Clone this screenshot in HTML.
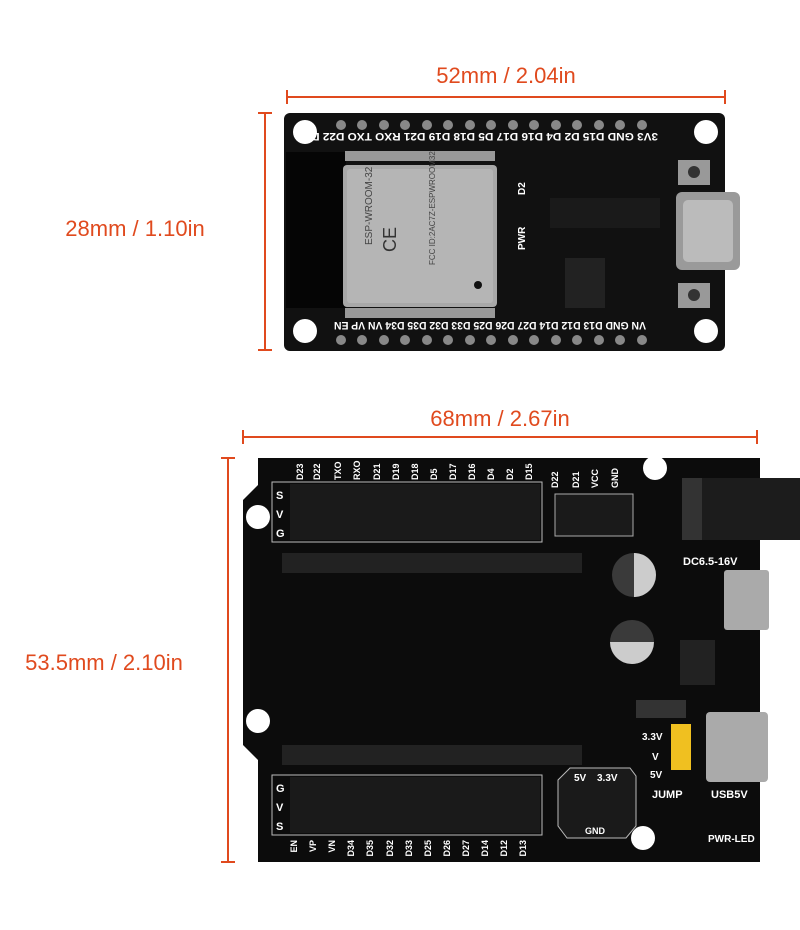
<!DOCTYPE html>
<html><head><style>
body{margin:0;background:#fff;width:800px;height:930px;overflow:hidden}
svg{display:block}
.d{font-family:"Liberation Sans",sans-serif;fill:#e04a1e;font-size:22px}
.w{font-family:"Liberation Sans",sans-serif;fill:#fff;font-weight:bold}
</style></head><body>
<svg width="800" height="930" viewBox="0 0 800 930">
<g stroke="#e04a1e" stroke-width="2">
<line x1="287" y1="97" x2="725" y2="97"/><line x1="287" y1="90" x2="287" y2="104"/><line x1="725" y1="90" x2="725" y2="104"/>
<line x1="265" y1="113" x2="265" y2="350"/><line x1="258" y1="113" x2="272" y2="113"/><line x1="258" y1="350" x2="272" y2="350"/>
<line x1="243" y1="437" x2="757" y2="437"/><line x1="243" y1="430" x2="243" y2="444"/><line x1="757" y1="430" x2="757" y2="444"/>
<line x1="228" y1="458" x2="228" y2="862"/><line x1="221" y1="458" x2="235" y2="458"/><line x1="221" y1="862" x2="235" y2="862"/>
</g>
<text class="d" x="506" y="83" text-anchor="middle">52mm / 2.04in</text>
<text class="d" x="135" y="236" text-anchor="middle">28mm / 1.10in</text>
<text class="d" x="500" y="426" text-anchor="middle">68mm / 2.67in</text>
<text class="d" x="104" y="670" text-anchor="middle">53.5mm / 2.10in</text>

<rect x="284" y="113" width="441" height="238" rx="6" fill="#111"/>
<rect x="286" y="152" width="60" height="156" fill="#050505"/>
<circle cx="305" cy="132" r="12" fill="#fff"/><circle cx="706" cy="132" r="12" fill="#fff"/>
<circle cx="305" cy="331" r="12" fill="#fff"/><circle cx="706" cy="331" r="12" fill="#fff"/>
<g fill="#999">
<rect x="345" y="151" width="150" height="10"/><rect x="345" y="308" width="150" height="10"/>
</g>
<rect x="343" y="165" width="154" height="142" rx="4" fill="#a8a8a8"/>
<rect x="347" y="169" width="146" height="134" rx="3" fill="#b5b5b5"/>
<text x="372" y="245" font-family="Liberation Sans" font-size="10" fill="#444" transform="rotate(-90 372 245)">ESP-WROOM-32</text>
<text x="396" y="252" font-family="Liberation Sans" font-size="18" fill="#333" transform="rotate(-90 396 252)">CE</text>
<text x="435" y="265" font-family="Liberation Sans" font-size="8" fill="#444" transform="rotate(-90 435 265)">FCC ID:2AC7Z-ESPWROOM32</text>
<circle cx="478" cy="285" r="4" fill="#111"/>
<g fill="#888">
<circle cx="341" cy="125" r="5"/><circle cx="362" cy="125" r="5"/><circle cx="384" cy="125" r="5"/><circle cx="405" cy="125" r="5"/><circle cx="427" cy="125" r="5"/><circle cx="448" cy="125" r="5"/><circle cx="470" cy="125" r="5"/><circle cx="491" cy="125" r="5"/><circle cx="513" cy="125" r="5"/><circle cx="534" cy="125" r="5"/><circle cx="556" cy="125" r="5"/><circle cx="577" cy="125" r="5"/><circle cx="599" cy="125" r="5"/><circle cx="620" cy="125" r="5"/><circle cx="642" cy="125" r="5"/>
<circle cx="341" cy="340" r="5"/><circle cx="362" cy="340" r="5"/><circle cx="384" cy="340" r="5"/><circle cx="405" cy="340" r="5"/><circle cx="427" cy="340" r="5"/><circle cx="448" cy="340" r="5"/><circle cx="470" cy="340" r="5"/><circle cx="491" cy="340" r="5"/><circle cx="513" cy="340" r="5"/><circle cx="534" cy="340" r="5"/><circle cx="556" cy="340" r="5"/><circle cx="577" cy="340" r="5"/><circle cx="599" cy="340" r="5"/><circle cx="620" cy="340" r="5"/><circle cx="642" cy="340" r="5"/>
</g>
<text class="w" x="478" y="141" font-size="11" text-anchor="middle" textLength="360" lengthAdjust="spacingAndGlyphs" transform="rotate(180 478 137)">3V3 GND D15 D2 D4 D16 D17 D5 D18 D19 D21 RXO TXO D22 D23</text>
<text class="w" x="490" y="330" font-size="11" text-anchor="middle" textLength="312" lengthAdjust="spacingAndGlyphs" transform="rotate(180 490 326)">VN GND D13 D12 D14 D27 D26 D25 D33 D32 D35 D34 VN VP EN</text>
<text class="w" x="525" y="195" font-size="10" transform="rotate(-90 525 195)">D2</text>
<text class="w" x="525" y="250" font-size="10" transform="rotate(-90 525 250)">PWR</text>
<rect x="550" y="198" width="110" height="30" fill="#1a1a1a"/>
<rect x="565" y="258" width="40" height="50" fill="#222"/>
<rect x="676" y="192" width="64" height="78" rx="6" fill="#9a9a9a"/>
<rect x="683" y="200" width="50" height="62" rx="5" fill="#bbb"/>
<rect x="678" y="160" width="32" height="25" fill="#999"/><circle cx="694" cy="172" r="6" fill="#333"/>
<rect x="678" y="283" width="32" height="25" fill="#999"/><circle cx="694" cy="295" r="6" fill="#333"/>

<path d="M258 458 H760 V862 H258 V760 L243 745 V500 L258 485 Z" fill="#0c0c0c"/>
<circle cx="655" cy="468" r="12" fill="#fff"/><circle cx="258" cy="517" r="12" fill="#fff"/>
<circle cx="258" cy="721" r="12" fill="#fff"/><circle cx="643" cy="838" r="12" fill="#fff"/>
<rect x="682" y="478" width="118" height="62" fill="#1c1c1c"/>
<rect x="682" y="478" width="20" height="62" fill="#333"/>
<text class="w" x="683" y="565" font-size="11">DC6.5-16V</text>
<rect x="724" y="570" width="45" height="60" rx="3" fill="#aaa"/>
<rect x="706" y="712" width="62" height="70" rx="4" fill="#aaa"/>
<text class="w" x="711" y="798" font-size="11">USB5V</text>
<circle cx="634" cy="575" r="22" fill="#3a3a3a"/><path d="M634 553 A22 22 0 0 1 634 597 Z" fill="#ccc"/>
<circle cx="632" cy="642" r="22" fill="#3a3a3a"/><path d="M610 642 A22 22 0 0 0 654 642 Z" fill="#ccc"/>
<rect x="680" y="640" width="35" height="45" fill="#222"/>
<rect x="636" y="700" width="50" height="18" fill="#333"/>
<rect x="671" y="724" width="20" height="46" fill="#f0c020"/>
<text class="w" x="642" y="740" font-size="10">3.3V</text><text class="w" x="652" y="760" font-size="10">V</text><text class="w" x="650" y="778" font-size="10">5V</text>
<text class="w" x="652" y="798" font-size="11">JUMP</text>
<text class="w" x="708" y="842" font-size="10">PWR-LED</text>
<rect x="272" y="482" width="270" height="60" fill="none" stroke="#bbb"/>
<rect x="290" y="484" width="250" height="56" fill="#1a1a1a"/>
<text class="w" x="276" y="499" font-size="11">S</text><text class="w" x="276" y="518" font-size="11">V</text><text class="w" x="276" y="537" font-size="11">G</text>
<text class="w" x="303" y="480" font-size="9" transform="rotate(-90 303 480)">D23</text>
<text class="w" x="558" y="488" font-size="9" transform="rotate(-90 558 488)">D22</text>
<text class="w" x="579" y="488" font-size="9" transform="rotate(-90 579 488)">D21</text>
<text class="w" x="598" y="488" font-size="9" transform="rotate(-90 598 488)">VCC</text>
<text class="w" x="618" y="488" font-size="9" transform="rotate(-90 618 488)">GND</text>
<g class="w" font-size="9"><text x="320" y="480" transform="rotate(-90 320 480)">D22</text><text x="341" y="480" transform="rotate(-90 341 480)">TXO</text><text x="360" y="480" transform="rotate(-90 360 480)">RXO</text><text x="380" y="480" transform="rotate(-90 380 480)">D21</text><text x="399" y="480" transform="rotate(-90 399 480)">D19</text><text x="418" y="480" transform="rotate(-90 418 480)">D18</text><text x="437" y="480" transform="rotate(-90 437 480)">D5</text><text x="456" y="480" transform="rotate(-90 456 480)">D17</text><text x="475" y="480" transform="rotate(-90 475 480)">D16</text><text x="494" y="480" transform="rotate(-90 494 480)">D4</text><text x="513" y="480" transform="rotate(-90 513 480)">D2</text><text x="532" y="480" transform="rotate(-90 532 480)">D15</text></g>
<rect x="555" y="494" width="78" height="42" fill="#1a1a1a" stroke="#aaa"/>
<rect x="282" y="553" width="300" height="20" fill="#222"/>
<rect x="282" y="745" width="300" height="20" fill="#222"/>
<rect x="272" y="775" width="270" height="60" fill="none" stroke="#bbb"/>
<rect x="290" y="777" width="250" height="56" fill="#1a1a1a"/>
<text class="w" x="276" y="792" font-size="11">G</text><text class="w" x="276" y="811" font-size="11">V</text><text class="w" x="276" y="830" font-size="11">S</text>
<g class="w" font-size="9"><text x="297" y="840" transform="rotate(-90 297 840)" text-anchor="end">EN</text><text x="316" y="840" transform="rotate(-90 316 840)" text-anchor="end">VP</text><text x="335" y="840" transform="rotate(-90 335 840)" text-anchor="end">VN</text><text x="354" y="840" transform="rotate(-90 354 840)" text-anchor="end">D34</text><text x="373" y="840" transform="rotate(-90 373 840)" text-anchor="end">D35</text><text x="393" y="840" transform="rotate(-90 393 840)" text-anchor="end">D32</text><text x="412" y="840" transform="rotate(-90 412 840)" text-anchor="end">D33</text><text x="431" y="840" transform="rotate(-90 431 840)" text-anchor="end">D25</text><text x="450" y="840" transform="rotate(-90 450 840)" text-anchor="end">D26</text><text x="469" y="840" transform="rotate(-90 469 840)" text-anchor="end">D27</text><text x="488" y="840" transform="rotate(-90 488 840)" text-anchor="end">D14</text><text x="507" y="840" transform="rotate(-90 507 840)" text-anchor="end">D12</text><text x="526" y="840" transform="rotate(-90 526 840)" text-anchor="end">D13</text></g>
<path d="M570 768 H630 L636 776 V826 L626 838 H567 L558 826 V780 Z" fill="#1a1a1a" stroke="#bbb"/>
<text class="w" x="574" y="781" font-size="10">5V</text><text class="w" x="597" y="781" font-size="10">3.3V</text>
<text class="w" x="585" y="834" font-size="9">GND</text>
</svg>
</body></html>
